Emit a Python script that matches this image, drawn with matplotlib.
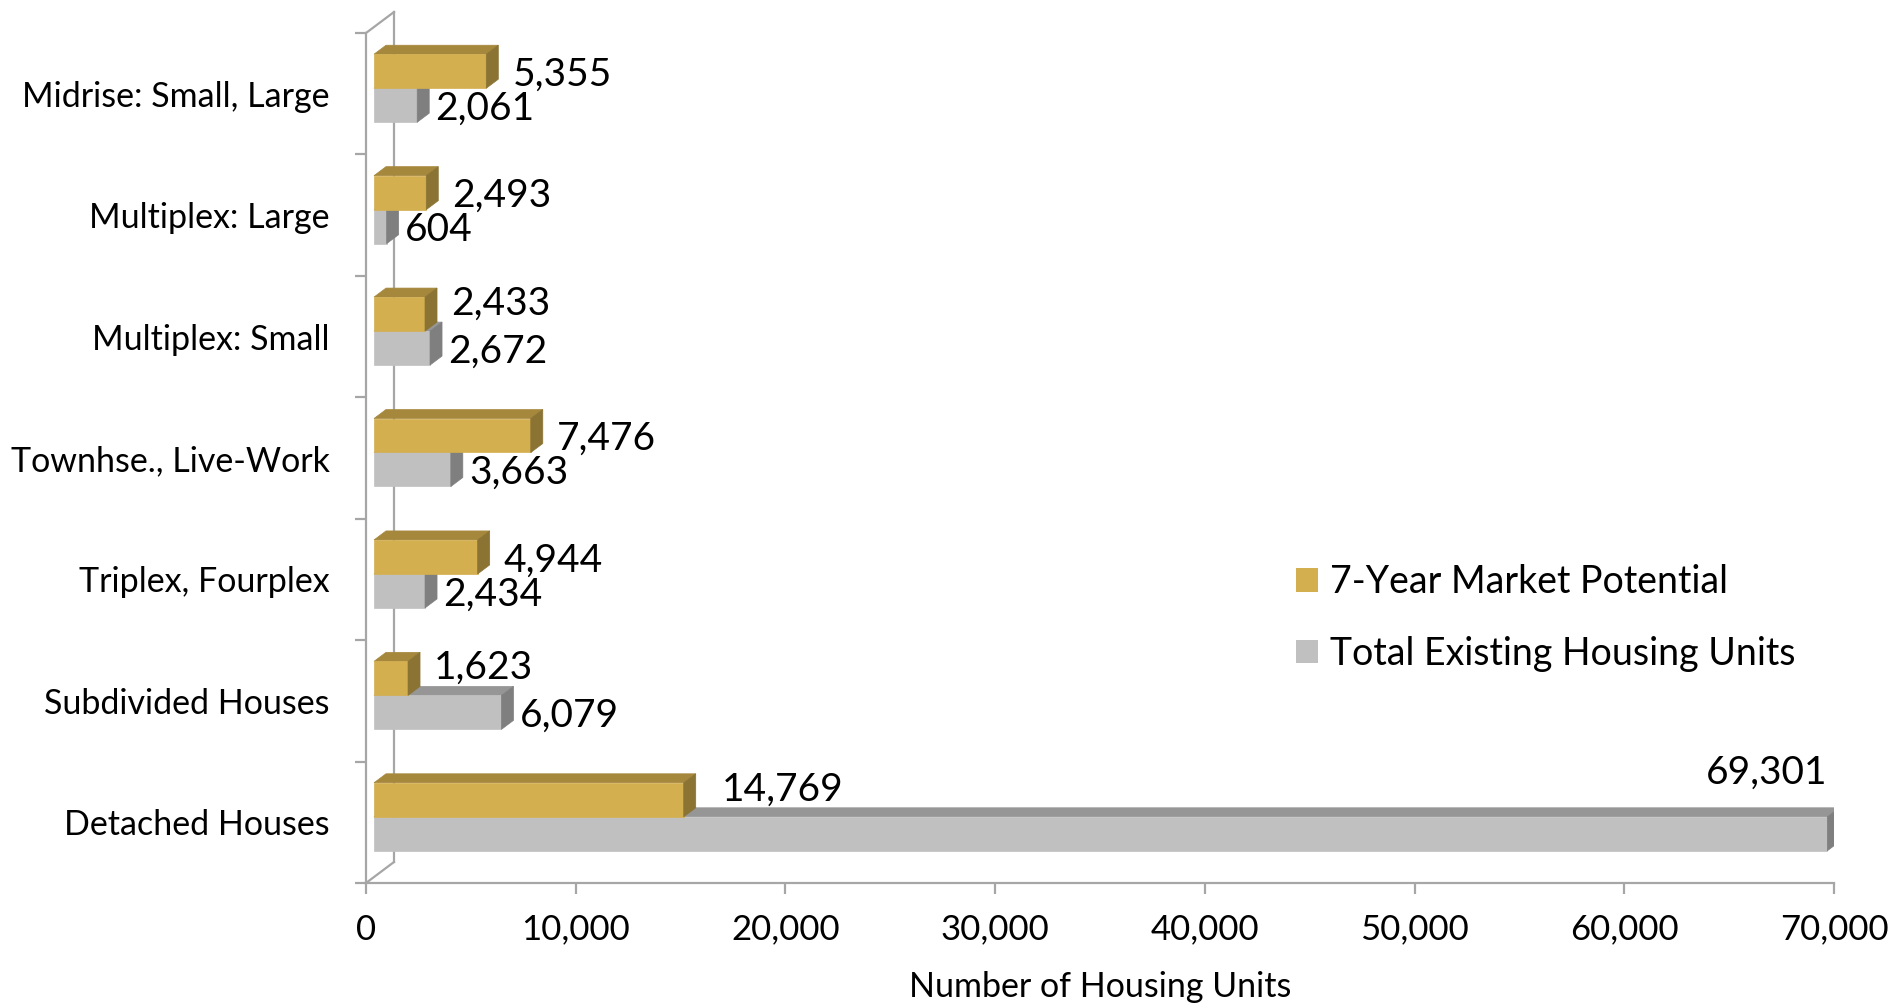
import matplotlib
matplotlib.use("Agg")
import matplotlib.pyplot as plt
import matplotlib.transforms as mtransforms
from matplotlib.patches import Polygon, Patch
from matplotlib.lines import Line2D

plt.rcParams['font.family'] = ['Lato', 'DejaVu Sans']

# data (top to bottom as shown)
categories = ["Midrise: Small, Large", "Multiplex: Large", "Multiplex: Small",
              "Townhse., Live-Work", "Triplex, Fourplex", "Subdivided Houses",
              "Detached Houses"]
market_potential = [5355, 2493, 2433, 7476, 4944, 1623, 14769]
existing_units = [2061, 604, 2672, 3663, 2434, 6079, 69301]
series_names = ["7-Year Market Potential", "Total Existing Housing Units"]
xticks = [0, 10000, 20000, 30000, 40000, 50000, 60000, 70000]

# colours: front, top, side
GOLD = ("#D4AF50", "#A6883D", "#8A7333")
GREY = ("#C0C0C0", "#969696", "#7F7F7F")
AXIS_C = "#A6A6A6"

W, H, DPI = 1892, 1008, 100
fig = plt.figure(figsize=(W / DPI, H / DPI), dpi=DPI)
ax = fig.add_axes([366 / W, 1 - 883 / H, (1834 - 366) / W, (883 - 33) / H])

n = len(categories)
XMAX = 70000
ax.set_xlim(0, XMAX)
ax.set_ylim(-0.5, n - 0.5)

px_x = (1834 - 366) / XMAX      # pixels per unit
px_y = (883 - 33) / n          # pixels per category
bar_h = 34 / px_y
shift = 5.5 / px_y             # bars sit a bit above category centre
ddx, ddy = 12 / px_x, 9 / px_y  # bar depth
bar_tr = mtransforms.offset_copy(ax.transData, fig=fig, x=8, y=0, units='dots')


def bar3d(x, y0, y1, cols):
    front = Polygon([(0, y0), (x, y0), (x, y1), (0, y1)], closed=True,
                    fc=cols[0], ec=cols[0], lw=0.5, transform=bar_tr, zorder=3)
    top = Polygon([(0, y1), (x, y1), (x + ddx, y1 + ddy), (ddx, y1 + ddy)], closed=True,
                  fc=cols[1], ec=cols[1], lw=0.5, transform=bar_tr, zorder=3)
    side = Polygon([(x, y0), (x + ddx, y0 + ddy), (x + ddx, y1 + ddy), (x, y1)], closed=True,
                   fc=cols[2], ec=cols[2], lw=0.5, transform=bar_tr, zorder=3)
    for p in (top, front, side):
        ax.add_patch(p)


VAL_FS = 28
for i, cat in enumerate(categories):
    c = n - 1 - i + shift
    g, e = market_potential[i], existing_units[i]
    bar3d(e, c - bar_h, c, GREY)
    bar3d(g, c, c + bar_h, GOLD)

    # labels
    if e > 60000:
        t = mtransforms.offset_copy(ax.transData, fig=fig, x=-4, y=24, units='dots')
        ax.text(e + ddx, c + ddy, f"{e:,}", ha='right', va='baseline',
                fontsize=VAL_FS, transform=t, zorder=5)
    else:
        t = mtransforms.offset_copy(ax.transData, fig=fig, x=8 + 12 + 6, y=0, units='dots')
        ax.text(e, c - bar_h / 2, f"{e:,}", ha='left', va='center_baseline',
                fontsize=VAL_FS, transform=t, zorder=5)
    up = 14 if e > g else 0
    gap = 26 if e > 60000 else 14
    t = mtransforms.offset_copy(ax.transData, fig=fig, x=8 + 12 + gap, y=up, units='dots')
    ax.text(g, c + bar_h / 2, f"{g:,}", ha='left', va='center_baseline',
            fontsize=VAL_FS, transform=t, zorder=5)

# axes frame: front lines as spines, back wall with offsets
for s in ("top", "right"):
    ax.spines[s].set_visible(False)
for s in ("left", "bottom"):
    ax.spines[s].set_color(AXIS_C)
    ax.spines[s].set_linewidth(1.6)

back = mtransforms.offset_copy(ax.transAxes, fig=fig, x=28, y=21, units='dots')
ax.add_line(Line2D([0, 0], [0, 1], color=AXIS_C, lw=1.6, transform=back, clip_on=False, zorder=1))
for yy in (0, 1):
    ax.add_line(Line2D([0, 28 / ((1834 - 366))], [yy, yy + 21 / (883 - 33)], color=AXIS_C, lw=1.6,
                       transform=ax.transAxes, clip_on=False, zorder=1))

ax.set_xticks(xticks)
ax.set_xticklabels([f"{v:,}" for v in xticks], fontsize=25)
ax.tick_params(axis='x', length=8, width=1.6, color=AXIS_C, pad=14)

ax.set_yticks([k - 0.5 for k in range(n + 1)])
ax.set_yticklabels([])
ax.tick_params(axis='y', which='major', length=8, width=1.6, color=AXIS_C)
ax.set_yticks(list(range(n)), minor=True)
ax.set_yticklabels(categories[::-1], minor=True, fontsize=24.5)
ax.tick_params(axis='y', which='minor', length=0, pad=26)

ax.set_xlabel("Number of Housing Units", fontsize=24.5, labelpad=18)

handles = [Patch(fc=GOLD[0], ec='none'), Patch(fc=GREY[0], ec='none')]
ax.legend(handles, series_names, loc='center left',
          bbox_to_anchor=((1262 - 366) / (1834 - 366), (883 - 618) / (883 - 33)),
          frameon=False, fontsize=27, handlelength=0.58, handleheight=0.58, handletextpad=0.32,
          labelspacing=0.95)

fig.savefig("out.png", dpi=DPI)
